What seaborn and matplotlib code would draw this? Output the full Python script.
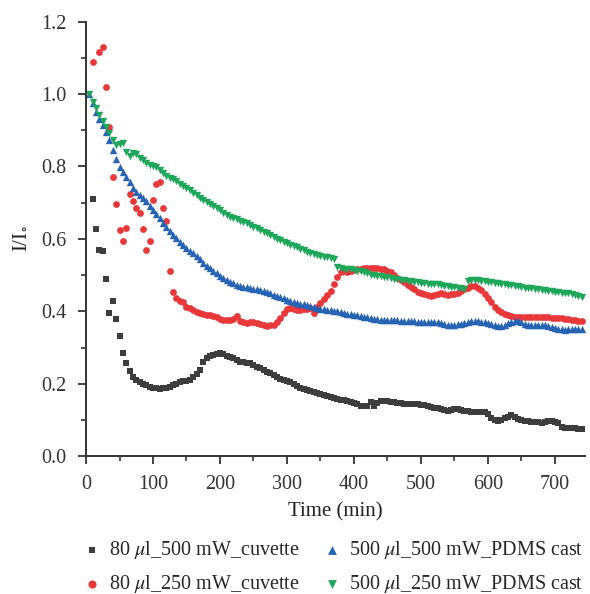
import matplotlib
matplotlib.use("Agg")
import matplotlib.pyplot as plt
import numpy as np
import pandas as pd
import seaborn as sns

# time grids (min): cuvette runs start at 10 min, PDMS runs at 5 min
time_cuvette = np.arange(10, 745, 5)
time_pdms = np.arange(5, 745, 5)

# 80 ul, 500 mW, cuvette
cuv_500 = [
    0.710, 0.627, 0.571, 0.568, 0.489, 0.395, 0.428, 0.378, 0.332, 0.285,
    0.257, 0.237, 0.220, 0.212, 0.205, 0.200, 0.196, 0.193, 0.190, 0.188,
    0.187, 0.188, 0.190, 0.193, 0.197, 0.201, 0.206, 0.209, 0.208, 0.212,
    0.220, 0.228, 0.239, 0.262, 0.271, 0.276, 0.280, 0.283, 0.285, 0.283,
    0.278, 0.274, 0.271, 0.266, 0.262, 0.260, 0.257, 0.257, 0.252, 0.247,
    0.243, 0.238, 0.234, 0.229, 0.225, 0.219, 0.214, 0.210, 0.208, 0.206,
    0.200, 0.195, 0.188, 0.185, 0.183, 0.180, 0.178, 0.176, 0.173, 0.170,
    0.167, 0.165, 0.162, 0.159, 0.157, 0.155, 0.153, 0.150, 0.147, 0.144,
    0.140, 0.139, 0.139, 0.151, 0.140, 0.147, 0.153, 0.154, 0.152, 0.150,
    0.149, 0.148, 0.147, 0.146, 0.146, 0.145, 0.145, 0.144, 0.143, 0.142,
    0.140, 0.136, 0.133, 0.133, 0.130, 0.127, 0.126, 0.128, 0.130, 0.130,
    0.129, 0.126, 0.125, 0.124, 0.124, 0.124, 0.124, 0.124, 0.118, 0.106,
    0.102, 0.099, 0.100, 0.105, 0.110, 0.114, 0.110, 0.103, 0.101, 0.099,
    0.097, 0.096, 0.096, 0.094, 0.092, 0.095, 0.099, 0.097, 0.096, 0.092,
    0.080, 0.078, 0.078, 0.078, 0.078, 0.077, 0.077,
]

# 80 ul, 250 mW, cuvette
cuv_250 = [
    1.087, np.nan, 1.117, 1.130, 1.020, 0.910, 0.770, 0.697, 0.625, 0.595,
    0.630, 0.724, 0.705, 0.686, 0.672, 0.628, 0.570, 0.595, 0.708, 0.751,
    0.758, 0.686, 0.650, 0.513, 0.455, 0.438, 0.429, 0.427, 0.413, 0.410,
    0.404, 0.398, 0.395, 0.392, 0.390, 0.389, 0.388, 0.384, 0.378, 0.377,
    0.376, 0.377, 0.378, 0.388, 0.375, 0.371, 0.369, 0.370, 0.372, 0.368,
    0.365, 0.362, 0.360, 0.362, 0.363, 0.370, 0.381, 0.395, 0.406, 0.410,
    0.408, 0.405, 0.405, 0.406, 0.408, 0.409, 0.397, 0.413, 0.423, 0.434,
    0.445, 0.457, 0.475, 0.495, 0.510, 0.511, 0.510, 0.512, 0.514, 0.516,
    0.518, 0.520, 0.521, 0.520, 0.520, 0.519, 0.518, 0.516, 0.513, 0.509,
    0.500, 0.492, 0.486, 0.481, 0.474, 0.467, 0.461, 0.455, 0.450, 0.448,
    0.445, 0.444, 0.446, 0.448, 0.452, 0.447, 0.445, 0.447, 0.449, 0.452,
    0.456, 0.461, 0.466, 0.470, 0.470, 0.466, 0.459, 0.449, 0.437, 0.425,
    0.413, 0.405, 0.399, 0.393, 0.389, 0.387, 0.386, 0.385, 0.384, 0.384,
    0.384, 0.384, 0.384, 0.384, 0.384, 0.384, 0.384, 0.383, 0.383, 0.382,
    0.381, 0.380, 0.379, 0.377, 0.376, 0.375, 0.374,
]

# 500 ul, 500 mW, PDMS cast
pdms_500 = [
    1.000, 0.975, 0.950, 0.932, 0.914, 0.896, 0.873, 0.845, 0.820, 0.798,
    0.784, 0.770, 0.756, 0.742, 0.730, 0.722, 0.712, 0.704, 0.692, 0.681,
    0.669, 0.657, 0.645, 0.634, 0.622, 0.611, 0.602, 0.593, 0.583, 0.574,
    0.566, 0.561, 0.553, 0.545, 0.533, 0.526, 0.519, 0.511, 0.505, 0.499,
    0.493, 0.487, 0.482, 0.478, 0.474, 0.470, 0.468, 0.467, 0.465, 0.463,
    0.461, 0.459, 0.456, 0.453, 0.450, 0.446, 0.442, 0.439, 0.436, 0.433,
    0.430, 0.427, 0.424, 0.422, 0.420, 0.417, 0.415, 0.413, 0.410, 0.408,
    0.406, 0.404, 0.403, 0.401, 0.400, 0.398, 0.396, 0.394, 0.393, 0.391,
    0.389, 0.387, 0.386, 0.384, 0.381, 0.379, 0.378, 0.377, 0.377, 0.377,
    0.377, 0.376, 0.376, 0.375, 0.375, 0.375, 0.374, 0.373, 0.372, 0.372,
    0.372, 0.372, 0.372, 0.372, 0.370, 0.368, 0.365, 0.363, 0.363, 0.364,
    0.365, 0.366, 0.368, 0.371, 0.373, 0.374, 0.373, 0.371, 0.370, 0.368,
    0.366, 0.364, 0.361, 0.360, 0.364, 0.369, 0.372, 0.375, 0.374, 0.370,
    0.365, 0.363, 0.364, 0.364, 0.363, 0.363, 0.362, 0.359, 0.357, 0.355,
    0.353, 0.351, 0.350, 0.351, 0.352, 0.352, 0.351, 0.351,
]

# 500 ul, 250 mW, PDMS cast
pdms_250 = [
    1.000, 0.979, 0.961, 0.942, 0.926, 0.910, 0.892, 0.873, 0.859, 0.861,
    0.864, 0.841, 0.829, 0.836, 0.834, 0.824, 0.818, 0.810, 0.805, 0.801,
    0.798, 0.790, 0.781, 0.775, 0.769, 0.765, 0.759, 0.752, 0.746, 0.740,
    0.734, 0.727, 0.721, 0.714, 0.708, 0.703, 0.696, 0.690, 0.685, 0.679,
    0.673, 0.667, 0.661, 0.657, 0.654, 0.651, 0.648, 0.644, 0.639, 0.634,
    0.630, 0.625, 0.620, 0.616, 0.611, 0.606, 0.601, 0.596, 0.592, 0.588,
    0.584, 0.580, 0.577, 0.573, 0.569, 0.564, 0.561, 0.558, 0.556, 0.553,
    0.551, 0.549, 0.548, 0.546, 0.522, 0.520, 0.518, 0.517, 0.516, 0.514,
    0.512, 0.511, 0.510, 0.505, 0.500, 0.500, 0.499, 0.497, 0.495, 0.494,
    0.493, 0.491, 0.489, 0.488, 0.487, 0.485, 0.483, 0.482, 0.480, 0.479,
    0.478, 0.477, 0.476, 0.476, 0.475, 0.473, 0.471, 0.470, 0.468, 0.467,
    0.466, 0.464, 0.462, 0.485, 0.487, 0.487, 0.486, 0.485, 0.484, 0.482,
    0.481, 0.479, 0.478, 0.477, 0.476, 0.474, 0.472, 0.470, 0.469, 0.468,
    0.466, 0.465, 0.464, 0.462, 0.461, 0.459, 0.458, 0.457, 0.456, 0.455,
    0.453, 0.452, 0.451, 0.450, 0.448, 0.445, 0.442, 0.440,
]

labels = [
    r"80 $\mathit{\mu}$l_500 mW_cuvette",
    r"80 $\mathit{\mu}$l_250 mW_cuvette",
    r"500 $\mathit{\mu}$l_500 mW_PDMS cast",
    r"500 $\mathit{\mu}$l_250 mW_PDMS cast",
]

sns.set_style("ticks")
plt.rcParams["font.family"] = ["Liberation Serif", "DejaVu Serif"]
plt.rcParams["mathtext.fontset"] = "stix"

fig = plt.figure(figsize=(5.9, 5.94), dpi=100)
ax = fig.add_axes([0.1458, 0.2315, 0.8458, 0.7323])

series = [
    (time_cuvette, cuv_500, "s", "#3d3d3d", 16),
    (time_cuvette, cuv_250, "o", "#e8383a", 24),
    (time_pdms, pdms_500, "^", "#2763b3", 28),
    (time_pdms, pdms_250, "v", "#1ea65a", 28),
]
for (t, vals, mk, col, size), lab in zip(series, labels):
    df = pd.DataFrame({"time": t, "ratio": vals})
    sns.scatterplot(data=df, x="time", y="ratio", marker=mk, color=col, s=size,
                    linewidth=0, label=lab, ax=ax)

ax.set_xlim(0, 745)
ax.set_ylim(0, 1.2)
ax.set_xticks(np.arange(0, 701, 100))
ax.set_xticks(np.arange(50, 745, 100), minor=True)
ax.set_yticks(np.arange(0, 1.21, 0.2))
ax.set_yticks(np.arange(0.1, 1.2, 0.2), minor=True)
ax.yaxis.set_major_formatter(matplotlib.ticker.FormatStrFormatter("%.1f"))
sns.despine(ax=ax)
for s in ["left", "bottom"]:
    ax.spines[s].set_linewidth(1.4)
    ax.spines[s].set_color("#333333")
ax.tick_params(which="major", length=6, width=1.3, labelsize=14.5,
               colors="#333333")
ax.tick_params(axis="x", which="major", pad=7)
ax.tick_params(axis="y", which="major", pad=8)
ax.tick_params(which="minor", length=3.5, width=1.2, colors="#333333")
ax.set_xlabel("Time (min)", fontsize=15, color="#222222", labelpad=6)
ax.set_ylabel(r"I/I$_{\circ}$", fontsize=15, color="#222222", labelpad=8)

ax.get_legend().remove()
handles, labs = ax.get_legend_handles_labels()
fig.legend(handles, labs, ncol=2,
           loc="center", bbox_to_anchor=(0.562, 0.0455), frameon=False,
           fontsize=14.5, markerscale=1.2, handletextpad=0.25,
           columnspacing=1.0, labelspacing=0.6, handlelength=1.2)

fig.savefig("out.png", dpi=100)
